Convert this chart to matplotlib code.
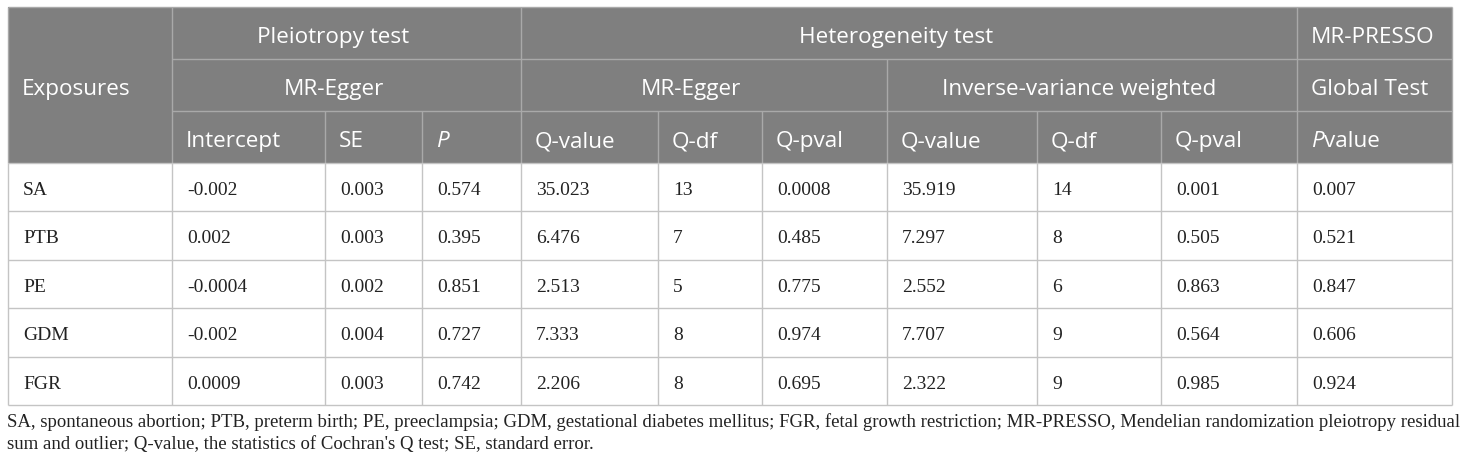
import matplotlib
matplotlib.use("Agg")
import matplotlib.pyplot as plt
from matplotlib.patches import Rectangle

# ---------------- data ----------------
exposures = ["SA", "PTB", "PE", "GDM", "FGR"]
egger_intercept = ["-0.002", "0.002", "-0.0004", "-0.002", "0.0009"]
egger_se = ["0.003", "0.003", "0.002", "0.004", "0.003"]
egger_p = ["0.574", "0.395", "0.851", "0.727", "0.742"]
het_egger_q = ["35.023", "6.476", "2.513", "7.333", "2.206"]
het_egger_df = ["13", "7", "5", "8", "8"]
het_egger_pval = ["0.0008", "0.485", "0.775", "0.974", "0.695"]
ivw_q = ["35.919", "7.297", "2.552", "7.707", "2.322"]
ivw_df = ["14", "8", "6", "9", "9"]
ivw_pval = ["0.001", "0.505", "0.863", "0.564", "0.985"]
presso_p = ["0.007", "0.521", "0.847", "0.606", "0.924"]

columns = [exposures, egger_intercept, egger_se, egger_p, het_egger_q,
           het_egger_df, het_egger_pval, ivw_q, ivw_df, ivw_pval, presso_p]
sub_headers = ["Intercept", "SE", r"$\it{P}$", "Q-value", "Q-df", "Q-pval",
               "Q-value", "Q-df", "Q-pval", "Pvalue"]
footnote_lines = [
    "SA, spontaneous abortion; PTB, preterm birth; PE, preeclampsia; GDM, gestational diabetes mellitus; "
    "FGR, fetal growth restriction; MR-PRESSO, Mendelian randomization pleiotropy residual",
    "sum and outlier; Q-value, the statistics of Cochran's Q test; SE, standard error.",
]

# ---------------- layout ----------------
W, H = 1460, 465
col_x = [8, 172, 325, 422, 521, 658, 762, 887, 1037, 1161, 1297, 1452]
hdr_y = [7, 59, 111, 163]
row_h = 48.4
n_rows = len(exposures)
body_bottom = hdr_y[-1] + row_h * n_rows
pad = 14

HDR_BG = "#7f7f7f"
HDR_LINE = "#a9a9a9"
BODY_LINE = "#c4c4c4"
SANS = ["Open Sans", "DejaVu Sans"]
SERIF = ["Liberation Serif", "DejaVu Serif"]
hdr_fs = 16.2
body_fs = 14.0

fig = plt.figure(figsize=(W / 100, H / 100), dpi=100)
ax = fig.add_axes([0, 0, 1, 1])
ax.set_xlim(0, W)
ax.set_ylim(H, 0)
ax.axis("off")

# header background
ax.add_patch(Rectangle((col_x[0], hdr_y[0]), col_x[-1] - col_x[0], hdr_y[-1] - hdr_y[0],
                       facecolor=HDR_BG, edgecolor="none", zorder=1))

def hline(y, x0, x1, c, lw=1.0):
    ax.plot([x0, x1], [y, y], color=c, lw=lw, solid_capstyle="butt", zorder=3)

def vline(x, y0, y1, c, lw=1.0):
    ax.plot([x, x], [y0, y1], color=c, lw=lw, solid_capstyle="butt", zorder=3)

# header lines
hline(hdr_y[0], col_x[0], col_x[-1], HDR_LINE)
hline(hdr_y[1], col_x[1], col_x[10], HDR_LINE)
hline(hdr_y[1], col_x[10], col_x[11], HDR_LINE)
hline(hdr_y[2], col_x[1], col_x[11], HDR_LINE)
vline(col_x[0], hdr_y[0], hdr_y[3], HDR_LINE)
vline(col_x[-1], hdr_y[0], hdr_y[3], HDR_LINE)
vline(col_x[1], hdr_y[0], hdr_y[3], HDR_LINE)
vline(col_x[4], hdr_y[0], hdr_y[3], HDR_LINE)
vline(col_x[10], hdr_y[0], hdr_y[3], HDR_LINE)
vline(col_x[7], hdr_y[1], hdr_y[3], HDR_LINE)
for i in [2, 3, 5, 6, 8, 9]:
    vline(col_x[i], hdr_y[2], hdr_y[3], HDR_LINE)

# body lines
for r in range(n_rows + 1):
    hline(hdr_y[-1] + r * row_h, col_x[0], col_x[-1], BODY_LINE)
for x in col_x:
    vline(x, hdr_y[-1], body_bottom, BODY_LINE)

# header texts
base_off = 36
def htext(x, row, s, ha="left"):
    ax.text(x, hdr_y[row] + base_off, s, color="white", fontsize=hdr_fs,
            family=SANS, ha=ha, va="baseline", zorder=4)

ax.text(col_x[0] + pad, hdr_y[1] + base_off, "Exposures", color="white", fontsize=hdr_fs,
        family=SANS, ha="left", va="baseline", zorder=4)
cen_off = -13
htext((col_x[1] + col_x[4]) / 2 + cen_off, 0, "Pleiotropy test", ha="center")
htext((col_x[4] + col_x[10]) / 2 + cen_off, 0, "Heterogeneity test", ha="center")
htext(col_x[10] + pad, 0, "MR-PRESSO")
htext((col_x[1] + col_x[4]) / 2 + cen_off, 1, "MR-Egger", ha="center")
htext((col_x[4] + col_x[7]) / 2 + cen_off, 1, "MR-Egger", ha="center")
htext((col_x[7] + col_x[10]) / 2 + cen_off, 1, "Inverse-variance weighted", ha="center")
htext(col_x[10] + pad, 1, "Global Test")
for i, s in enumerate(sub_headers):
    if s == "Pvalue":
        t = ax.text(col_x[i + 1] + pad, hdr_y[2] + base_off, "P", color="white",
                    fontsize=hdr_fs, family=SANS, style="italic", ha="left",
                    va="baseline", zorder=4)
        fig.canvas.draw()
        bb = t.get_window_extent()
        x_end = ax.transData.inverted().transform((bb.x1, bb.y0))[0]
        htext(x_end, 2, "value")
    elif s.startswith("$"):
        ax.text(col_x[i + 1] + pad, hdr_y[2] + base_off, "P", color="white",
                fontsize=hdr_fs, family=SANS, style="italic", ha="left",
                va="baseline", zorder=4)
    else:
        htext(col_x[i + 1] + pad, 2, s)

# body texts
for c, vals in enumerate(columns):
    for r, v in enumerate(vals):
        ax.text(col_x[c] + pad + 1, hdr_y[-1] + r * row_h + 32, v, color="#222222",
                fontsize=body_fs, family=SERIF, ha="left", va="baseline", zorder=4)

# footnote (fit first line to table width)
fig.canvas.draw()
renderer = fig.canvas.get_renderer()
fs = 13.0
t1 = ax.text(col_x[0] - 1, 427, footnote_lines[0], fontsize=fs, family=SERIF,
             color="#222222", ha="left", va="baseline")
bb = t1.get_window_extent(renderer)
target = (col_x[-1] + 3 - col_x[0]) * fig.dpi / 100
fs = fs * target / bb.width
t1.set_fontsize(fs)
ax.text(col_x[0] - 1, 449, footnote_lines[1], fontsize=fs, family=SERIF,
        color="#222222", ha="left", va="baseline")

fig.savefig("out.png", dpi=100)
